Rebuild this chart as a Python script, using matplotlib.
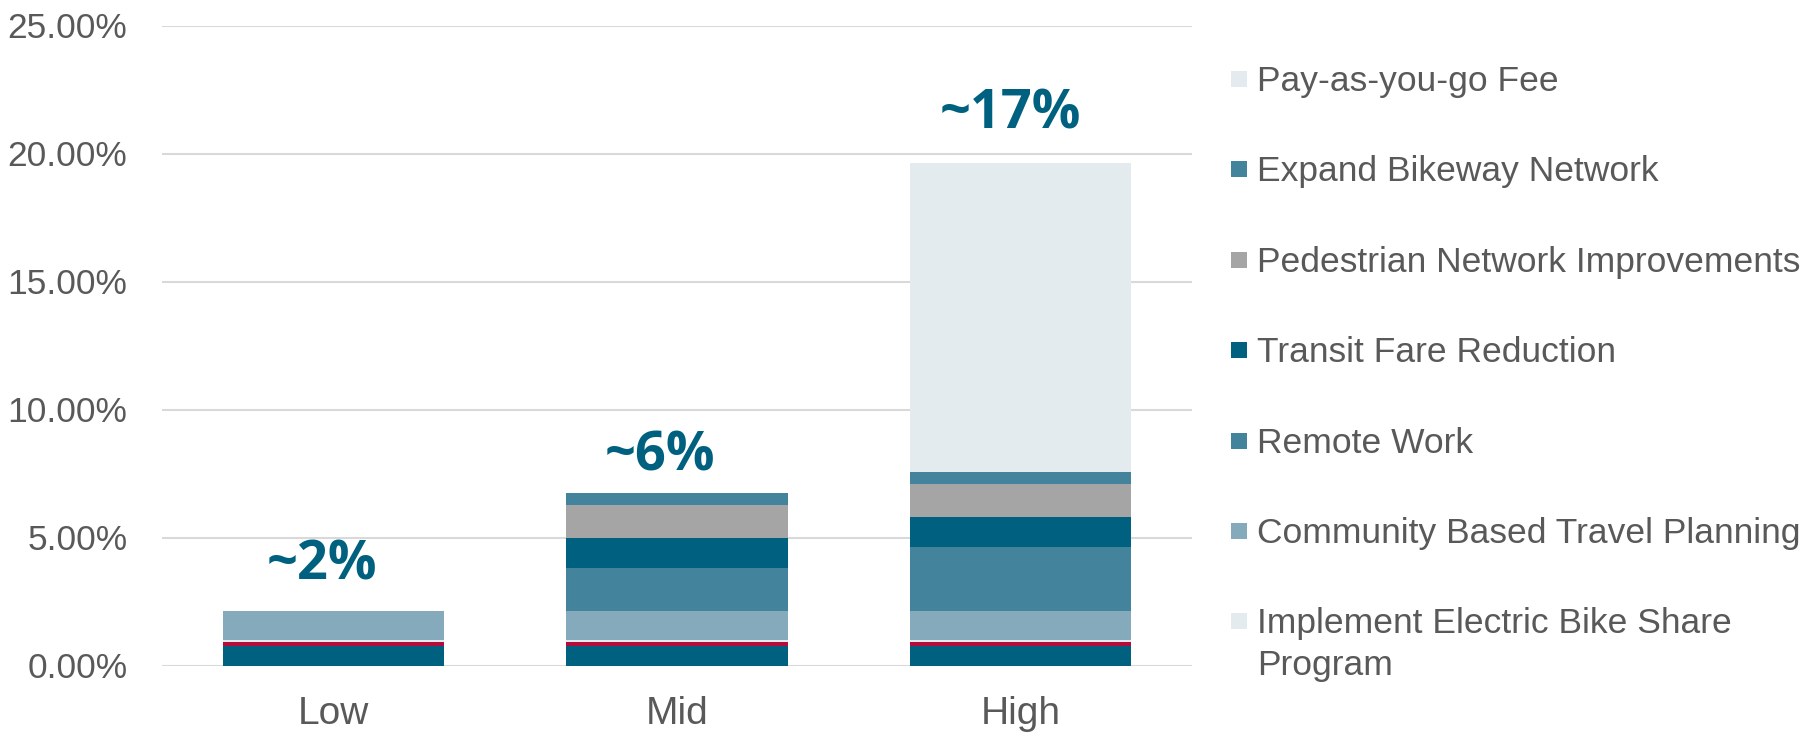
import matplotlib
matplotlib.use("Agg")
import matplotlib.pyplot as plt
from matplotlib.patches import Rectangle
from matplotlib.ticker import FuncFormatter

# Scenario categories
scenarios = ["Low", "Mid", "High"]

# Stacked components (percent VMT reduction), bottom to top
base_dark = [0.77, 0.77, 0.77]
base_red = [0.16, 0.16, 0.16]
ebike_share = [0.07, 0.07, 0.07]
community_travel = [1.13, 1.13, 1.13]
remote_work = [0.0, 1.67, 2.50]
transit_fare = [0.0, 1.18, 1.17]
pedestrian = [0.0, 1.29, 1.28]
bikeway = [0.0, 0.48, 0.48]
pay_as_you_go = [0.0, 0.0, 12.06]

# Headline labels above each bar
headline = ["~2%", "~6%", "~17%"]

legend_labels = [
    "Pay-as-you-go Fee",
    "Expand Bikeway Network",
    "Pedestrian Network Improvements",
    "Transit Fare Reduction",
    "Remote Work",
    "Community Based Travel Planning",
    "Implement Electric Bike Share\nProgram",
]

C_DARK = "#00607f"
C_RED = "#b30d3b"
C_PALE = "#e3ebef"
C_LIGHT = "#84aabb"
C_MID = "#43849c"
C_GRAY = "#a5a5a5"
TXT = "#595959"

stack = [
    (base_dark, C_DARK),
    (base_red, C_RED),
    (ebike_share, C_PALE),
    (community_travel, C_LIGHT),
    (remote_work, C_MID),
    (transit_fare, C_DARK),
    (pedestrian, C_GRAY),
    (bikeway, C_MID),
    (pay_as_you_go, C_PALE),
]
legend_colors = [C_PALE, C_MID, C_GRAY, C_DARK, C_MID, C_LIGHT, C_PALE]

# Pixel offsets of the headline labels from each bar top
label_dx = [-12, -17, -10]
label_dy = [45, 36, 49]

W, H = 1818, 734
fig = plt.figure(figsize=(W / 100, H / 100), dpi=100)
ax = fig.add_axes([162 / W, 1 - 665.5 / H, (1192 - 162) / W, (665.5 - 25.5) / H])

x = list(range(len(scenarios)))
bottoms = [0.0] * len(scenarios)
for vals, col in stack:
    ax.bar(x, vals, bottom=bottoms, width=0.644, color=col, linewidth=0, zorder=3)
    bottoms = [b + v for b, v in zip(bottoms, vals)]

for xi, tot, lab, dx, dy in zip(x, bottoms, headline, label_dx, label_dy):
    ax.annotate(lab, (xi, tot), xytext=(dx, dy), textcoords="offset pixels",
                ha="center", va="center", fontsize=39, fontweight="bold",
                color=C_DARK, family="Open Sans")

ax.set_xlim(-0.5, 2.5)
ax.set_ylim(0, 25)
ax.set_yticks([0, 5, 10, 15, 20, 25])
ax.yaxis.set_major_formatter(FuncFormatter(lambda v, p: f"{v:.2f}%"))
ax.set_xticks(x)
ax.set_xticklabels(scenarios)
ax.grid(axis="y", color="#d9d9d9", linewidth=1.5, zorder=0)
for s in ax.spines.values():
    s.set_visible(False)
ax.tick_params(axis="both", length=0, labelcolor=TXT)
ax.tick_params(axis="y", pad=25, labelsize=25.5)
ax.tick_params(axis="x", pad=22, labelsize=28)
for t in ax.get_xticklabels() + ax.get_yticklabels():
    t.set_family("Liberation Sans")

# Legend drawn as squares with labels in figure pixels
for i, (lab, col) in enumerate(zip(legend_labels, legend_colors)):
    yc = 79 + i * 90.4
    fig.patches.append(Rectangle((1231 / W, 1 - (yc + 8) / H), 16 / W, 16 / H,
                                 transform=fig.transFigure, facecolor=col,
                                 edgecolor="none"))
    fig.text(1257 / W, 1 - (yc - 14) / H, lab, ha="left", va="top",
             fontsize=25.5, color=TXT, family="Liberation Sans", linespacing=1.34)

fig.savefig("out.png", dpi=100, facecolor="white")
